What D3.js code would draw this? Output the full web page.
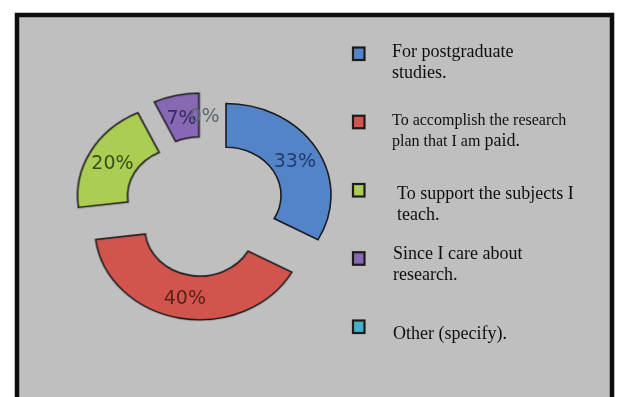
<!DOCTYPE html>
<html>
<head>
<meta charset="utf-8">
<script src="https://cdn.jsdelivr.net/npm/d3@7"></script>
<style>
  body { margin: 0; background: #ffffff; }
  svg { display: block; }
</style>
</head>
<body>
<script>
'use strict';

// chart data
const categories = ["For postgraduate studies.", "To accomplish the research plan that I am paid.",
  "To support the subjects I teach.", "Since I care about research.", "Other (specify)."];
const values = [33, 40, 20, 7, 0];
const sliceLabels = ["33%", "40%", "20%", "7%", "0%"];
const legendLines = [
  ["For postgraduate", "studies."],
  ["To accomplish the research", "plan that I am "],
  ["To support the subjects I", "teach."],
  ["Since I care about", "research."],
  ["Other (specify)."]
];

(function() {

  let svgContainer = ""; // keep SVG reference in global scope
  const fills = ["#5384c8", "#d2554e", "#accd52", "#8667b5", "#43b2c8"];
  const labelColors = ["#213c70", "#5c201b", "#34501a", "#3a2660", "#5b6670"];

  window.onload = function() {
    svgContainer = d3.select('body')
      .append('svg')
      .attr('width', 620)
      .attr('height', 397);

    // the source is a slightly soft scan, so blur a touch
    svgContainer.append('defs')
      .append('filter')
        .attr('id', 'soft')
      .append('feGaussianBlur')
        .attr('stdDeviation', 0.45);

    // gray panel with heavy black frame (runs off the bottom)
    svgContainer.append('rect')
      .attr('x', 17)
      .attr('y', 15)
      .attr('width', 595)
      .attr('height', 400)
      .attr('fill', '#bfbfbf')
      .attr('stroke', '#111')
      .attr('stroke-width', 4.5)
      .attr('filter', 'url(#soft)');

    drawDonut();
    drawLegend();
  }

  // exploded doughnut, slightly squashed vertically like the original
  function drawDonut() {
    const cx = 204.5, cy = 206.5, squash = 0.875, explode = 25;

    let pie = d3.pie().sort(null).value(d => d);
    let arcs = pie(values);

    let arc = d3.arc()
      .innerRadius(55)
      .outerRadius(105);

    let offset = function(d) {
      let mid = (d.startAngle + d.endAngle) / 2;
      return [explode * Math.sin(mid), -explode * Math.cos(mid)];
    };

    let g = svgContainer.append('g')
      .attr('filter', 'url(#soft)')
      .append('g')
      .attr('transform', 'translate(' + cx + ',' + cy + ') scale(1,' + squash + ')');

    g.selectAll('path')
      .data(arcs.filter(d => d.value > 0))
      .enter()
      .append('path')
        .attr('d', arc)
        .attr('transform', d => 'translate(' + offset(d) + ')')
        .attr('fill', d => fills[d.index])
        .attr('stroke', '#1b1b1b')
        .attr('stroke-width', 1.6)
        .attr('vector-effect', 'non-scaling-stroke');

    // percentage labels at the slice centroids
    svgContainer.append('g')
      .attr('filter', 'url(#soft)')
      .selectAll('.pct')
      .data(arcs)
      .enter()
      .append('text')
        .attr('class', 'pct')
        .attr('x', d => cx + arc.centroid(d)[0] + offset(d)[0])
        .attr('y', d => cy + (arc.centroid(d)[1] + offset(d)[1]) * squash)
        .attr('text-anchor', 'middle')
        .attr('dominant-baseline', 'central')
        .style('font-family', 'DejaVu Sans, sans-serif')
        .style('font-size', '19px')
        .attr('fill', d => labelColors[d.index])
        .text(d => sliceLabels[d.index]);
  }

  function drawLegend() {
    let yScale = d3.scalePoint()
      .domain(categories)
      .range([54, 327]);

    // small nudges so the text sits like in the source
    const textX = [392, 392, 397, 393, 393];
    const textDy = [3, 2.5, 8, 0.5, 12];

    let items = svgContainer.append('g')
      .attr('filter', 'url(#soft)')
      .selectAll('.legend')
      .data(categories)
      .enter()
      .append('g')
        .attr('class', 'legend');

    items.append('rect')
      .attr('x', 353)
      .attr('y', d => yScale(d) - 6.5)
      .attr('width', 11.5)
      .attr('height', 12.5)
      .attr('fill', (d, i) => fills[i])
      .attr('stroke', '#1b1b1b')
      .attr('stroke-width', 2.2);

    items.each(function(d, i) {
      let t = d3.select(this).append('text')
        .attr('x', textX[i])
        .attr('y', yScale(d) + textDy[i])
        .style('font-family', 'Liberation Serif, Times New Roman, serif')
        .style('font-size', i == 1 ? '16px' : '18px')
        .attr('fill', '#111');

      legendLines[i].forEach((line, j) => {
        t.append('tspan')
          .attr('x', textX[i])
          .attr('dy', j == 0 ? 0 : (i == 1 ? 21.5 : 21))
          .text(line);
        if (i == 1 && j == 1) {
          t.append('tspan').style('font-size', '18px').text('paid.');
        }
      });
    });
  }

})();
</script>
</body>
</html>
